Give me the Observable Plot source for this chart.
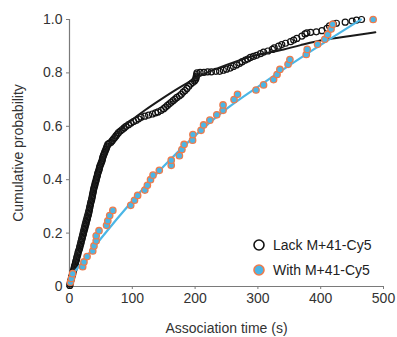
<!DOCTYPE html>
<html>
<head>
<meta charset="utf-8">
<script src="https://cdn.jsdelivr.net/npm/d3@7"></script>
<script src="https://cdn.jsdelivr.net/npm/@observablehq/plot@0.6"></script>
<style>
  html, body { margin: 0; padding: 0; background: #fff; }
  #wrap { position: relative; width: 397px; height: 337px; font-family: "Liberation Sans", Arial, sans-serif; }
  #legend { position: absolute; left: 252px; top: 232px; font-size: 14px; color: #222; }
  #legend .item { display: flex; align-items: center; height: 25px; }
  #legend svg { margin-right: 7px; }
</style>
</head>
<body>
<div id="wrap"></div>
<script>
// ---- data ----
const seriesNames = ["Lack M+41-Cy5", "With M+41-Cy5"];
const xTicks = [0, 100, 200, 300, 400, 500];
const yTicks = [0, 0.2, 0.4, 0.6, 0.8, 1.0];

// Lack M+41-Cy5 : association time (s) / cumulative probability
const lackT = [0.5,1,1.5,2,3,3.5,4,5,5.5,6,7,7.5,8,9,9.5,10,11,11.5,12,13,13.5,14,15,16,16.5,17,18,18.5,19,20,20.5,21,22,22.5,23,24,24.5,25,26,26.5,27,28,28.5,29,30,30.5,31,31.5,32,32.5,33,33.5,34,35,35.5,36,36.5,37,37.5,38,38.5,39,40,40.5,41,42,42.5,43,44,44.5,45,46,47,47.5,48,49,50,51,52,52.5,53,54,55,56,57,58,59,60,61,63,66,68,70,72,74,76,78,81,84,87,90,94,98,102,106,110,114,120,126,132,137,141,146,150,153,156,159,162,165,168,171,175,178,181,184,187,190,193,196,199,201,201.5,202,202.5,203,208,214,220,226,233,239,245,250,256,261,266,271,275,280,284,288,293,298,304,309,316,323,326,333,338,344,352,357,362,370,375,378,384,393,402,410,414,420,425,439,450,457,465];
const lackP = [0.004,0.01,0.016,0.022,0.028,0.034,0.04,0.046,0.052,0.058,0.064,0.07,0.076,0.082,0.088,0.094,0.1,0.106,0.112,0.118,0.124,0.13,0.136,0.142,0.148,0.154,0.16,0.166,0.172,0.178,0.184,0.19,0.196,0.202,0.208,0.214,0.22,0.226,0.232,0.238,0.244,0.25,0.256,0.262,0.268,0.274,0.28,0.286,0.292,0.298,0.304,0.31,0.316,0.322,0.328,0.334,0.34,0.346,0.352,0.358,0.364,0.37,0.376,0.382,0.388,0.394,0.4,0.406,0.412,0.418,0.424,0.43,0.436,0.442,0.448,0.454,0.46,0.466,0.472,0.478,0.484,0.49,0.496,0.502,0.508,0.514,0.52,0.526,0.532,0.536,0.54,0.546,0.552,0.558,0.564,0.57,0.576,0.582,0.588,0.594,0.6,0.606,0.612,0.618,0.622,0.628,0.634,0.638,0.642,0.646,0.65,0.654,0.66,0.666,0.672,0.678,0.684,0.69,0.696,0.702,0.708,0.714,0.72,0.728,0.734,0.742,0.75,0.758,0.764,0.77,0.776,0.782,0.788,0.794,0.8,0.802,0.802,0.804,0.804,0.806,0.806,0.81,0.814,0.818,0.824,0.83,0.836,0.842,0.848,0.852,0.858,0.862,0.866,0.872,0.878,0.882,0.888,0.894,0.9,0.906,0.911,0.917,0.923,0.929,0.938,0.946,0.95,0.952,0.954,0.958,0.967,0.976,0.983,0.986,0.99,0.994,0.998,1.0];

// With M+41-Cy5
const withT = [1.5,3,5,21,23,28,37,39,42.5,42.5,47,59,61,64,69,97.5,103.5,108.5,120,124,129,133,143,162,162,175,179,182.5,196,196.5,209.5,213.5,223.5,234.5,244.5,244.5,262,267.5,297,309,325,330.5,335,348,351,377,378.5,395,406.5,411,416.5,419,483.5];
const withP = [0.016,0.03,0.048,0.074,0.092,0.112,0.133,0.152,0.171,0.19,0.209,0.229,0.246,0.266,0.285,0.304,0.323,0.341,0.361,0.379,0.4,0.417,0.435,0.454,0.473,0.49,0.513,0.532,0.548,0.569,0.585,0.605,0.623,0.643,0.66,0.68,0.7,0.72,0.736,0.755,0.775,0.794,0.813,0.832,0.85,0.869,0.888,0.907,0.926,0.944,0.964,0.982,1.0];

// fitted curves
const lackFitT = [0,10,20,30,40,50,60,70,80,100,120,145,175,209,250,288,341,368,408,447,487];
const lackFitP = [0,0.12,0.225,0.31,0.39,0.46,0.515,0.555,0.585,0.625,0.66,0.70,0.745,0.79,0.83,0.86,0.888,0.904,0.925,0.938,0.952];
const withFitT = [0,50,100,150,200,250,300,350,400,464];
const withFitP = [0.03,0.18,0.32,0.45,0.565,0.665,0.748,0.828,0.905,1.0];

// ---- build tables ----
const lack = lackT.map((t, i) => ({t, p: lackP[i]}));
const withD = withT.map((t, i) => ({t, p: withP[i]}));
const lackFit = lackFitT.map((t, i) => ({t, p: lackFitP[i]}));
const withFit = withFitT.map((t, i) => ({t, p: withFitP[i]}));

const blue = "#4bb6e6";
const orange = "#ee7b4c";
const axisGrey = "#7a7a7a";
const textCol = "#333";

const chart = Plot.plot({
  width: 397,
  height: 337,
  marginLeft: 69,
  marginRight: 14,
  marginTop: 19,
  marginBottom: 51,
  style: {fontFamily: "'Liberation Sans', Arial, sans-serif", fontSize: "14px", color: textCol, background: "white"},
  x: {domain: [0, 500]},
  y: {domain: [0, 1]},
  marks: [
    Plot.ruleY([0], {stroke: axisGrey, strokeWidth: 1.2}),
    Plot.ruleX([0], {stroke: axisGrey, strokeWidth: 1.2}),
    Plot.axisX({ticks: xTicks, tickSize: 3, tickPadding: 4, stroke: axisGrey, fill: textCol,
      label: "Association time (s)", labelAnchor: "center", labelOffset: 46, labelArrow: "none", fontSize: 14}),
    Plot.axisY({ticks: yTicks, tickSize: 3, tickPadding: 4, stroke: axisGrey, fill: textCol,
      tickFormat: d => d === 0 ? "0" : d.toFixed(1),
      label: "Cumulative probability", labelAnchor: "center", labelOffset: 56, labelArrow: "none", fontSize: 14}),
    Plot.dot(lack, {x: "t", y: "p", r: 3, stroke: "#111", strokeWidth: 1.2, fill: "none"}),
    Plot.line(lackFit, {x: "t", y: "p", stroke: "#1a1a1a", strokeWidth: 2, curve: "monotone-x"}),
    Plot.line(withFit, {x: "t", y: "p", stroke: blue, strokeWidth: 2.2, curve: "monotone-x"}),
    Plot.dot(withD, {x: "t", y: "p", r: 3.2, stroke: orange, strokeWidth: 1.3, fill: blue})
  ]
});

const wrap = document.getElementById("wrap");
wrap.appendChild(chart);

// legend
const legend = document.createElement("div");
legend.id = "legend";
const styles = [
  {fill: "none", stroke: "#111", sw: 1.6},
  {fill: blue, stroke: orange, sw: 1.6}
];
seriesNames.forEach((name, i) => {
  const item = document.createElement("div");
  item.className = "item";
  const s = styles[i];
  item.innerHTML = `<svg width="14" height="14"><circle cx="7" cy="7" r="5" fill="${s.fill}" stroke="${s.stroke}" stroke-width="${s.sw}"/></svg><span>${name}</span>`;
  legend.appendChild(item);
});
wrap.appendChild(legend);
</script>
</body>
</html>
